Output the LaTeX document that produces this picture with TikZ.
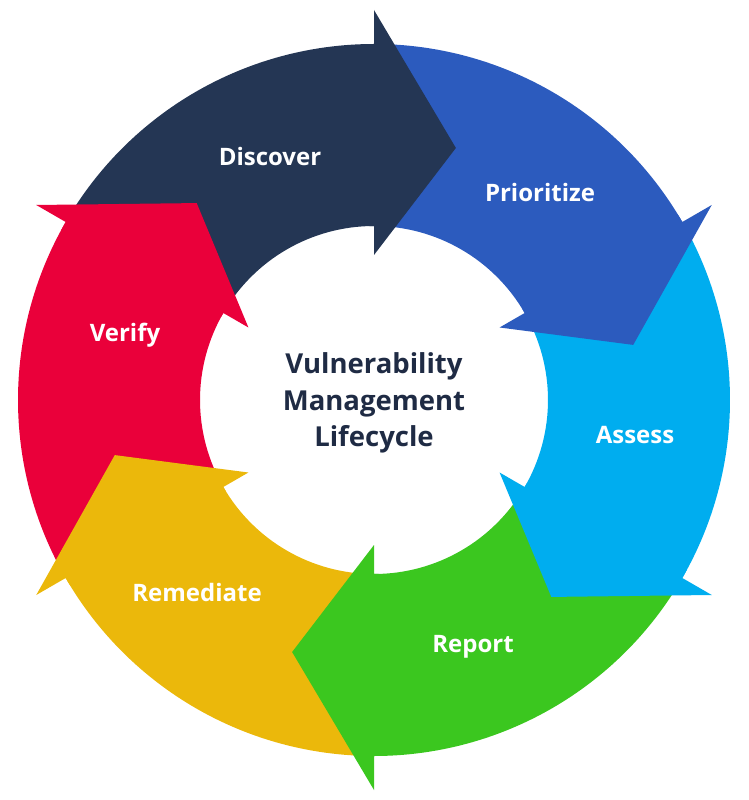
\documentclass[tikz,border=0pt]{standalone}
\usepackage{fontspec}
\setmainfont{Open Sans}
\definecolor{cDisc}{HTML}{243654}
\definecolor{cPrio}{HTML}{2C5BBE}
\definecolor{cAss}{HTML}{00ADEF}
\definecolor{cRep}{HTML}{3BC71F}
\definecolor{cRem}{HTML}{EBB80B}
\definecolor{cVer}{HTML}{EA003A}
\definecolor{cText}{HTML}{1F2B44}
\newcommand{\Ro}{356}
\newcommand{\Ri}{174}
\tikzset{
  seglabel/.style={text=white, font=\fontsize{24}{26}\selectfont\bfseries, anchor=center},
  centerlabel/.style={text=cText, font=\fontsize{27.5}{36.5}\selectfont\bfseries, align=center, anchor=center},
}
\begin{document}
\begin{tikzpicture}[x=1pt,y=1pt]
\useasboundingbox (-374,-400) rectangle (375,400);
% ring sectors
\foreach \e/\c in {90/cDisc,30/cPrio,-30/cAss,-90/cRep,-150/cRem,150/cVer}{
  \pgfmathsetmacro{\s}{\e+60}
  \fill[\c] (\s:\Ro) arc[start angle=\s, end angle=\e, radius=\Ro] -- (\e:\Ri)
    arc[start angle=\e, end angle=\s, radius=\Ri] -- cycle;
}
% arrow heads (with a thin strip reaching back into their own sector)
\foreach \e/\c in {90/cDisc,30/cPrio,-30/cAss,-90/cRep,-150/cRem,150/cVer}{
  \pgfmathsetmacro{\t}{\e-18}
  \pgfmathsetmacro{\b}{\e+1.5}
  \fill[\c] (\e:390) -- (\t:265) -- (\e:145) -- (\e:\Ri)
    arc[start angle=\e, end angle=\b, radius=\Ri] -- (\b:\Ro)
    arc[start angle=\b, end angle=\e, radius=\Ro] -- cycle;
}
\node[seglabel] (discover) at (-104,243) {Discover};
\node[seglabel] (prioritize) at (166,207) {Prioritize};
\node[seglabel] (assess) at (261,-35) {Assess};
\node[seglabel] (report) at (99,-247) {Report};
\node[seglabel] (remediate) at (-177,-192) {Remediate};
\node[seglabel] (verify) at (-249,65) {Verify};
\node[centerlabel] (title) at (0,-3) {Vulnerability\\Management\\Lifecycle};
\end{tikzpicture}
\end{document}
